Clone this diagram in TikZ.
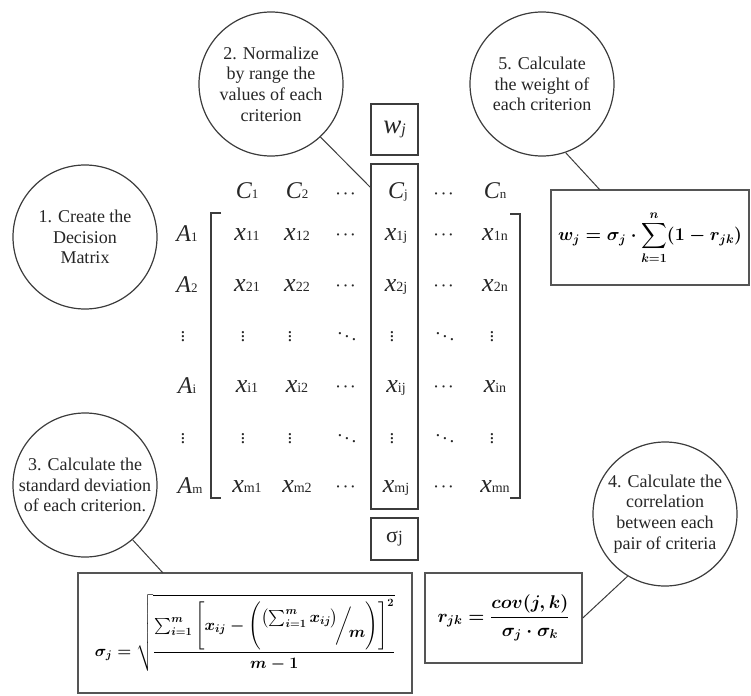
\documentclass[tikz,border=0pt]{standalone}
\usepackage{amsmath}
\usepackage{graphicx}
\usepackage{fontspec}
\setmainfont{Liberation Serif}
\definecolor{ink}{HTML}{262626}
\definecolor{linec}{HTML}{3C3C3C}
\definecolor{boxc}{HTML}{555555}
\newcommand{\ent}[2]{{\itshape #1}\raisebox{-0.5pt}{\fontsize{14}{14}\selectfont #2}}
\newcommand{\hdr}[2]{{\itshape #1}\raisebox{-0.5pt}{\fontsize{13}{13}\selectfont #2}}
\newcommand{\slfrac}[2]{\raisebox{1.1ex}{$\textstyle #1$}\!\bigg/\!\raisebox{-1.1ex}{$\textstyle #2$}}
\newsavebox{\wfbox}
\newsavebox{\rfbox}
\newsavebox{\sfbox}
\begin{document}
\sbox{\wfbox}{\resizebox{184pt}{!}{\fontsize{20}{24}\selectfont\boldmath$\displaystyle w_j=\sigma_j\cdot\sum_{k=1}^{n}(1-r_{jk})$}}
\sbox{\rfbox}{\resizebox{132pt}{!}{\fontsize{20}{24}\selectfont\boldmath$\displaystyle r_{jk}=\frac{cov(j,k)}{\sigma_j\cdot\sigma_k}$}}
\sbox{\sfbox}{\resizebox{300pt}{!}{\fontsize{20}{24}\selectfont\boldmath$\displaystyle \sigma_j=\sqrt{\frac{\sum_{i=1}^{m}\Bigg[x_{ij}-\Bigg(\slfrac{\left(\sum_{i=1}^{m}x_{ij}\right)}{m}\Bigg)\Bigg]^{2}}{m-1}}$}}
\begin{tikzpicture}[x=1pt,y=-1pt,
  bubble/.style={circle, draw=linec, line width=1.2pt, minimum size=144pt, inner sep=0pt,
    align=center, text=ink, font=\fontsize{18}{20.7}\selectfont},
  formbox/.style={draw=boxc, line width=1.5pt, inner sep=0pt, text=ink},
  smallbox/.style={draw=linec, line width=1.2pt, inner sep=0pt, text=ink},
  link/.style={draw=linec, line width=1pt},
  hd/.style={anchor=base, inner sep=0pt, text=ink, font=\fontsize{24}{24}\selectfont},
  en/.style={anchor=base, inner sep=0pt, text=ink, font=\fontsize{26}{26}\selectfont},
  dts/.style={inner sep=0pt, text=ink, font=\fontsize{15}{15}\selectfont\boldmath},
  vd/.style={inner sep=0pt, text=ink, font=\fontsize{19}{19}\selectfont\boldmath},
  brk/.style={draw=linec, line width=1.1pt}]
\useasboundingbox (0,0) rectangle (751,695);

% bubbles
\node[bubble] (c1) at (85,237) {1. Create the\\Decision\\Matrix};
\node[bubble] (c2) at (271,84) {2. Normalize\\by range the\\values of each\\criterion};
\node[bubble] (c3) at (85,485) {3. Calculate the\\standard deviation\\of each criterion.};
\node[bubble] (c4) at (665,514) {4. Calculate the\\correlation\\between each\\pair of criteria};
\node[bubble] (c5) at (542,84) {5. Calculate\\the weight of\\each criterion};

% column boxes
\node[smallbox, minimum width=47pt, minimum height=51pt] (wjbox) at (394.5,129.5) {\fontsize{27}{27}\selectfont\itshape w\raisebox{-1pt}{\fontsize{16}{16}\selectfont j}};
\node[smallbox, minimum width=47pt, minimum height=345pt] (colj) at (394.5,336.5) {};
\node[smallbox, minimum width=47pt, minimum height=42pt] (sjbox) at (394.5,539) {\fontsize{22}{22}\selectfont σ{\fontsize{17}{17}\selectfont j}};

% header
\node[hd] (C1) at (247,198) {\hdr{C}{1}};
\node[hd] (C2) at (297,198) {\hdr{C}{2}};
\node[dts] (Cd1) at (347,194) {$\cdots$};
\node[hd] (Cj) at (398,198) {\hdr{C}{j}};
\node[dts] (Cd2) at (445,194) {$\cdots$};
\node[hd] (Cn) at (495,198) {\hdr{C}{n}};

% row labels
\node[hd] (A1) at (187,241) {\hdr{A}{1}};
\node[hd] (A2) at (187,292) {\hdr{A}{2}};
\node[vd] (Av1) at (183,334) {$\vdots$};
\node[hd] (Ai) at (187,393) {\hdr{A}{i}};
\node[vd] (Av2) at (183,436) {$\vdots$};
\node[hd] (Am) at (190,493) {\hdr{A}{m}};

% row 1
\node[en] (x11) at (247,240) {\ent{x}{11}};
\node[en] (x12) at (297,240) {\ent{x}{12}};
\node[dts] (x1d1) at (347,235) {$\cdots$};
\node[en] (x1j) at (396,240) {\ent{x}{1j}};
\node[dts] (x1d2) at (445,235) {$\cdots$};
\node[en] (x1n) at (495,240) {\ent{x}{1n}};
% row 2
\node[en] (x21) at (247,291) {\ent{x}{21}};
\node[en] (x22) at (297,291) {\ent{x}{22}};
\node[dts] (x2d1) at (347,286) {$\cdots$};
\node[en] (x2j) at (396,291) {\ent{x}{2j}};
\node[dts] (x2d2) at (445,286) {$\cdots$};
\node[en] (x2n) at (495,291) {\ent{x}{2n}};
% vdots row
\node[vd] (v11) at (243,334) {$\vdots$};
\node[vd] (v12) at (290,334) {$\vdots$};
\node[vd] (v13) at (347,334) {$\ddots$};
\node[vd] (v14) at (392,334) {$\vdots$};
\node[vd] (v15) at (445,334) {$\ddots$};
\node[vd] (v16) at (492,334) {$\vdots$};
% row i
\node[en] (xi1) at (247,392) {\ent{x}{i1}};
\node[en] (xi2) at (297,392) {\ent{x}{i2}};
\node[dts] (xid1) at (347,387) {$\cdots$};
\node[en] (xij) at (396,392) {\ent{x}{ij}};
\node[dts] (xid2) at (445,387) {$\cdots$};
\node[en] (xin) at (495,392) {\ent{x}{in}};
% vdots row
\node[vd] (v21) at (243,436) {$\vdots$};
\node[vd] (v22) at (290,436) {$\vdots$};
\node[vd] (v23) at (347,436) {$\ddots$};
\node[vd] (v24) at (392,436) {$\vdots$};
\node[vd] (v25) at (445,436) {$\ddots$};
\node[vd] (v26) at (492,436) {$\vdots$};
% row m
\node[en] (xm1) at (247,492) {\ent{x}{m1}};
\node[en] (xm2) at (297,492) {\ent{x}{m2}};
\node[dts] (xmd1) at (347,487) {$\cdots$};
\node[en] (xmj) at (396,492) {\ent{x}{mj}};
\node[dts] (xmd2) at (445,487) {$\cdots$};
\node[en] (xmn) at (495,492) {\ent{x}{mn}};

% brackets
\draw[brk] (221,213) -- (211,213) -- (211,498) -- (221,498);
\draw[brk] (510,214) -- (520,214) -- (520,498) -- (510,498);

% formula boxes
\node[formbox, minimum width=198pt, minimum height=95pt] (wbox) at (650,237.5) {\usebox{\wfbox}};
\node[formbox, minimum width=157pt, minimum height=90pt] (rbox) at (503.5,618) {\usebox{\rfbox}};
\node[formbox, minimum width=334pt, minimum height=120pt] (sgbox) at (245,633) {\usebox{\sfbox}};

% connectors
\coordinate (c2end) at (371,188);
\coordinate (c5end) at (600,190);
\coordinate (c3end) at (163,573);
\draw[link] (c2.-47) -- (c2end);
\draw[link] (c5.-71) -- (c5end);
\draw[link] (c3.-49) -- (c3end);
\draw[link] (c4.-121) -- (rbox.east);
\end{tikzpicture}
\end{document}
